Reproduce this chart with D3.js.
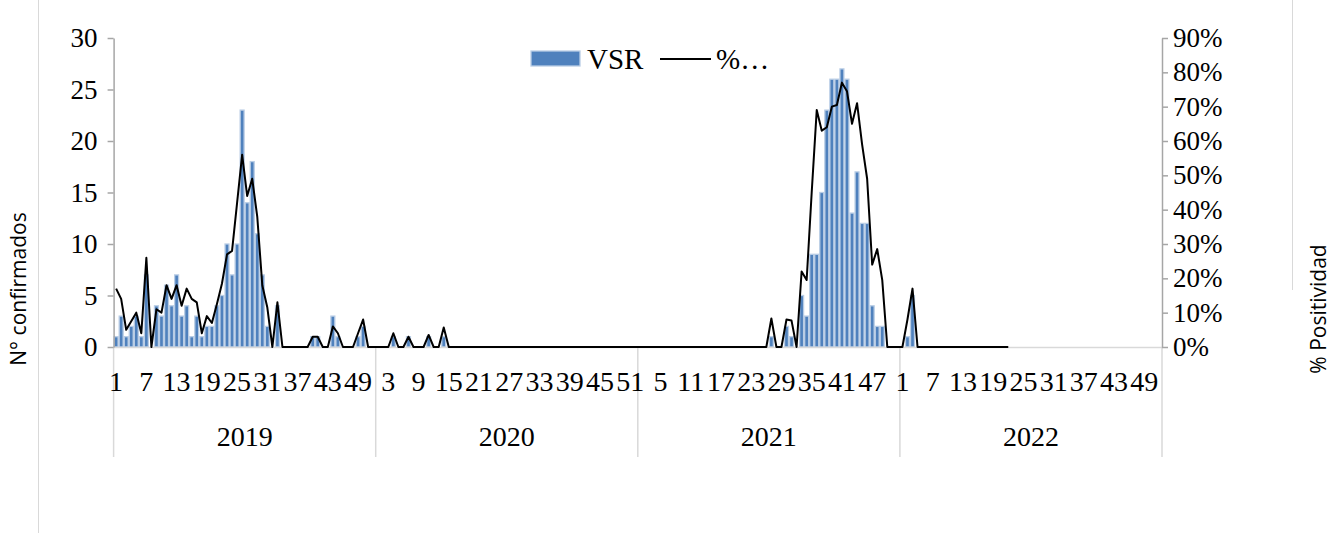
<!DOCTYPE html>
<html>
<head>
<meta charset="utf-8">
<script src="https://d3js.org/d3.v7.min.js"></script>
<style>
    body { margin: 0; background: #fff; }
    .tick text, .lbl { font-family: "Liberation Serif", serif; fill: #000; }
    .ttl { font-family: "Open Sans", sans-serif; font-size: 21px; fill: #000; }
</style>
</head>
<body>
<svg id="chart" width="1343" height="533"></svg>
<script>

    /* data: VSR confirmed cases and % positivity by week */
    var years = ["2019", "2020", "2021", "2022"];
    var weeksPerYear = [52, 52, 52, 52];

    var vsr2019 = [1, 3, 1, 2, 3, 1, 7, 0, 4, 3, 6, 4, 7, 3, 4, 1, 3, 1, 2, 2,
                   4, 5, 10, 7, 10, 23, 14, 18, 11, 7, 2, 0, 4, 0, 0, 0, 0, 0, 0, 1,
                   1, 0, 0, 3, 1, 0, 0, 0, 1, 2, 0, 0];
    var vsr2020 = [0, 0, 0, 1, 0, 0, 1, 0, 0, 0, 1, 0, 0, 1, 0, 0, 0, 0, 0, 0,
                   0, 0, 0, 0, 0, 0, 0, 0, 0, 0, 0, 0, 0, 0, 0, 0, 0, 0, 0, 0,
                   0, 0, 0, 0, 0, 0, 0, 0, 0, 0, 0, 0];
    var vsr2021 = [0, 0, 0, 0, 0, 0, 0, 0, 0, 0, 0, 0, 0, 0, 0, 0, 0, 0, 0, 0,
                   0, 0, 0, 0, 0, 0, 1, 0, 0, 2, 1, 0, 5, 3, 9, 9, 15, 23, 26, 26,
                   27, 26, 13, 17, 12, 12, 4, 2, 2, 0, 0, 0];
    var vsr2022 = [0, 1, 5, 0, 0, 0, 0, 0, 0, 0, 0, 0, 0, 0, 0, 0, 0, 0, 0, 0,
                   0, 0];

    var pos2019 = [17, 14, 5, 7.5, 10, 4, 26, 0, 11, 10, 18, 14, 18, 12, 17, 14, 13, 4, 9, 7,
                   12.5, 18.5, 27, 28, 42, 56, 44, 49, 38, 18, 11.5, 0, 13, 0, 0, 0, 0, 0, 0, 3,
                   3, 0, 0, 6, 4, 0, 0, 0, 4, 8, 0, 0];
    var pos2020 = [0, 0, 0, 4, 0, 0, 3, 0, 0, 0, 3.5, 0, 0, 5.7, 0, 0, 0, 0, 0, 0,
                   0, 0, 0, 0, 0, 0, 0, 0, 0, 0, 0, 0, 0, 0, 0, 0, 0, 0, 0, 0,
                   0, 0, 0, 0, 0, 0, 0, 0, 0, 0, 0, 0];
    var pos2021 = [0, 0, 0, 0, 0, 0, 0, 0, 0, 0, 0, 0, 0, 0, 0, 0, 0, 0, 0, 0,
                   0, 0, 0, 0, 0, 0, 8.3, 0, 0, 8, 7.7, 0, 22, 19.5, 45, 69, 63, 64, 70, 70.5,
                   77, 74.5, 65, 71, 59, 49, 24, 28.5, 19.5, 0, 0, 0];
    var pos2022 = [0, 8, 17, 0, 0, 0, 0, 0, 0, 0, 0, 0, 0, 0, 0, 0, 0, 0, 0, 0,
                   0, 0];

    var leftTicks = [0, 5, 10, 15, 20, 25, 30];
    var rightTicks = [0, 0.1, 0.2, 0.3, 0.4, 0.5, 0.6, 0.7, 0.8, 0.9];
    /* END DATA */

    function drawChart() {
        // one category per week, with its year
        var categories = [];
        years.forEach(function(y, k) {
            for (var w = 1; w <= weeksPerYear[k]; w++) categories.push({ year: y, week: w });
        });

        var vsr = [vsr2019, vsr2020, vsr2021, vsr2022];
        var pos = [pos2019, pos2020, pos2021, pos2022];
        var bars = [], line = [];
        var offset = 0;
        years.forEach(function(y, k) {
            vsr[k].forEach(function(v, j) { bars.push({ i: offset + j, v: v }); });
            pos[k].forEach(function(v, j) { line.push({ i: offset + j, v: v / 100 }); });
            offset += weeksPerYear[k];
        });

        var svg = d3.select("#chart");

        var x0 = 113.6, x1 = 1162, y0 = 347, y1 = 38;

        var x = d3.scaleBand().domain(d3.range(categories.length)).range([x0, x1])
                  .paddingInner(0.22).paddingOuter(0.11);
        var xc = function(i) { return x(i) + x.bandwidth() / 2; };
        var step = x.step();

        var yL = d3.scaleLinear().domain([0, 30]).range([y0, y1]);
        var yR = d3.scaleLinear().domain([0, 0.9]).range([y0, y1]);

        // chart area border (partially visible in the original)
        svg.append("line").attr("x1", 38.5).attr("x2", 38.5).attr("y1", 0).attr("y2", 533)
           .attr("stroke", "#d9d9d9");
        svg.append("line").attr("x1", 1292.5).attr("x2", 1292.5).attr("y1", 0).attr("y2", 290)
           .attr("stroke", "#d9d9d9");

        // bars
        svg.append("g").selectAll("rect")
           .data(bars.filter(function(d) { return d.v > 0; }))
           .enter().append("rect")
               .attr("x", function(d) { return x(d.i); })
               .attr("y", function(d) { return yL(d.v); })
               .attr("width", x.bandwidth())
               .attr("height", function(d) { return yL(0) - yL(d.v); })
               .attr("fill", "#4f81bd")
               .attr("stroke", "#b9cde5")
               .attr("stroke-width", 1.3);

        // x axis line and year separators
        svg.append("line").attr("x1", x0).attr("x2", x1).attr("y1", y0 + 0.5).attr("y2", y0 + 0.5)
           .attr("stroke", "#d9d9d9").attr("stroke-width", 1.5);

        var bounds = [0];
        weeksPerYear.forEach(function(n, k) { bounds.push(bounds[k] + n); });
        svg.append("g").selectAll("line").data(bounds).enter().append("line")
           .attr("x1", function(b) { return x0 + b * step; })
           .attr("x2", function(b) { return x0 + b * step; })
           .attr("y1", y0).attr("y2", 457)
           .attr("stroke", "#d9d9d9").attr("stroke-width", 1.5);

        // week labels every 6th category
        svg.append("g").selectAll("text")
           .data(categories.filter(function(c, i) { return i % 6 == 0; }))
           .enter().append("text")
               .attr("class", "lbl")
               .attr("x", function(c) { return xc(categories.indexOf(c)); })
               .attr("y", 391)
               .attr("text-anchor", "middle")
               .attr("font-size", 28)
               .text(function(c) { return c.week; });

        // year labels
        svg.append("g").selectAll("text").data(years).enter().append("text")
           .attr("class", "lbl")
           .attr("x", function(y, k) { return x0 + (bounds[k] + bounds[k + 1]) / 2 * step; })
           .attr("y", 446)
           .attr("text-anchor", "middle")
           .attr("font-size", 28)
           .text(function(y) { return y; });

        // left axis
        var gL = svg.append("g").attr("transform", "translate(" + x0 + ",0)")
            .call(d3.axisLeft(yL).tickValues(leftTicks).tickSize(6).tickSizeOuter(0).tickPadding(10));
        gL.selectAll("text").attr("class", "lbl").attr("font-size", 27);

        // right axis
        var gR = svg.append("g").attr("transform", "translate(" + x1 + ",0)")
            .call(d3.axisRight(yR).tickValues(rightTicks).tickSize(6).tickSizeOuter(0).tickPadding(5)
                  .tickFormat(d3.format(".0%")));
        gR.selectAll("text").attr("class", "lbl").attr("font-size", 27);

        [gL, gR].forEach(function(g) {
            g.select(".domain").attr("stroke", "#a6a6a6").attr("stroke-width", 1.5);
            g.selectAll(".tick line").attr("stroke", "#a6a6a6").attr("stroke-width", 1.5);
            g.attr("font-family", null);
        });

        // positivity line
        var path = d3.line().x(function(d) { return xc(d.i); }).y(function(d) { return yR(d.v); });
        svg.append("path").datum(line)
           .attr("d", path)
           .attr("fill", "none")
           .attr("stroke", "#000")
           .attr("stroke-width", 2)
           .attr("stroke-linejoin", "round");

        // legend
        var lg = svg.append("g");
        lg.append("rect").attr("x", 531).attr("y", 51).attr("width", 49).attr("height", 15)
          .attr("fill", "#4f81bd").attr("stroke", "#b9cde5").attr("stroke-width", 1.3);
        lg.append("text").attr("class", "lbl").attr("x", 587).attr("y", 69).attr("font-size", 29).text("VSR");
        lg.append("line").attr("x1", 660).attr("x2", 711).attr("y1", 59).attr("y2", 59)
          .attr("stroke", "#000").attr("stroke-width", 2);
        lg.append("text").attr("class", "lbl").attr("x", 716).attr("y", 69).attr("font-size", 29).text("%…");

        // axis titles
        svg.append("text").attr("class", "ttl")
           .attr("transform", "translate(26,289) rotate(-90)")
           .attr("text-anchor", "middle")
           .text("N° confirmados");
        svg.append("text").attr("class", "ttl")
           .attr("transform", "translate(1326,309) rotate(-90)")
           .attr("text-anchor", "middle")
           .text("% Positividad");
    }

    drawChart();

</script>
</body>
</html>
